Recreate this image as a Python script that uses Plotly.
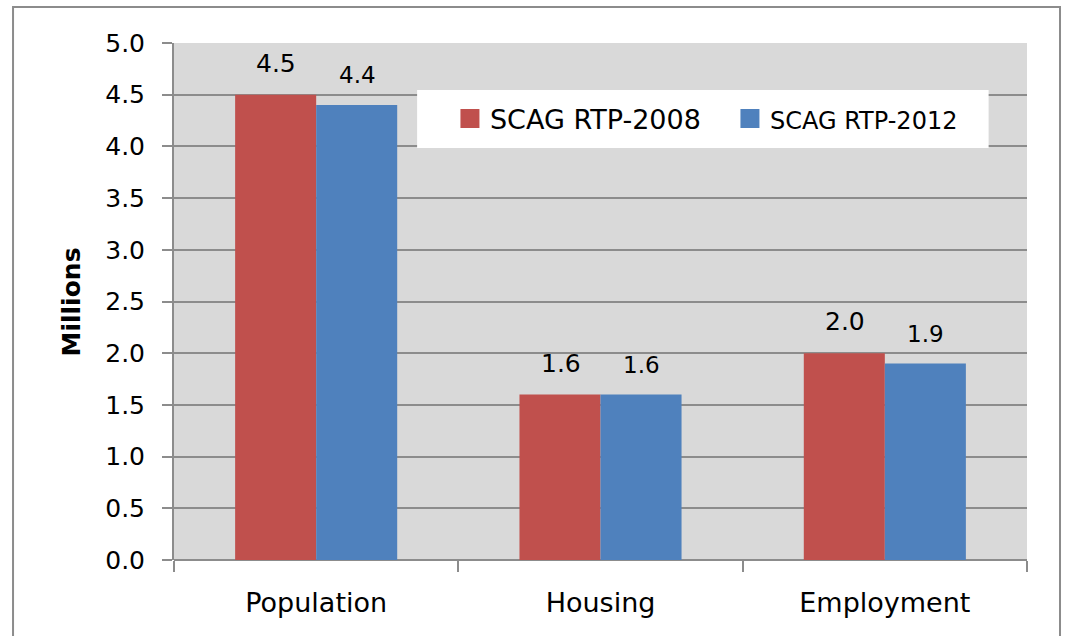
import plotly.graph_objects as go

categories = ["Population", "Housing", "Employment"]
series_names = ["SCAG RTP-2008", "SCAG RTP-2012"]
legend_sizes = [27, 24]
rtp2008 = [4.5, 1.6, 2.0]
rtp2012 = [4.4, 1.6, 1.9]
colors = ["#C0504D", "#4F81BD"]
y_ticks = [0.0, 0.5, 1.0, 1.5, 2.0, 2.5, 3.0, 3.5, 4.0, 4.5, 5.0]

FONT = "DejaVu Sans"
GRID = "#8C8C8C"

fig = go.Figure()
for name, vals, col in zip(series_names, [rtp2008, rtp2012], colors):
    fig.add_trace(go.Bar(x=categories, y=vals, name=name, marker_color=col,
                         marker_line_width=0, showlegend=False))
# legend proxies (larger square swatches)
for name, col, fs in zip(series_names, colors, legend_sizes):
    fig.add_trace(go.Scatter(x=[None], y=[None], mode="markers",
                             name=f"<span style='font-size:{fs}px'>{name}</span>",
                             marker=dict(symbol="square", size=16, color=col,
                                         line=dict(color=col, width=3))))

# data labels
annotations = []
for vals, shift, size in [(rtp2008, -40, 25), (rtp2012, 41, 23)]:
    for c, v in zip(categories, vals):
        annotations.append(dict(x=c, y=v, xref="x", yref="y", text=f"{v:.1f}",
                                showarrow=False, xshift=shift, yanchor="bottom",
                                yshift=15, font=dict(family=FONT, size=size, color="black")))
annotations.append(dict(x=-0.1196, y=0.5, xref="paper", yref="paper", text="<b>Millions</b>",
                        textangle=-90, showarrow=False, xanchor="center", yanchor="middle",
                        font=dict(family=FONT, size=25, color="black")))

fig.update_layout(
    width=1065, height=636,
    margin=dict(l=174, r=38, t=43, b=76, autoexpand=False),
    paper_bgcolor="white",
    plot_bgcolor="#D9D9D9",
    barmode="group", bargap=0.43, bargroupgap=0,
    font=dict(family=FONT, color="black"),
    annotations=annotations,
    legend=dict(orientation="h", x=0.3235, y=0.853, xanchor="left", yanchor="middle",
                bgcolor="rgba(0,0,0,0)", font=dict(family=FONT, size=27, color="black"),
                entrywidth=235, itemsizing="trace"),
    shapes=[
        dict(type="rect", xref="paper", yref="paper", x0=-0.1887, x1=1.0387, y0=-0.3, y1=1.0696,
             line=dict(color="#8C8C8C", width=2), fillcolor="rgba(0,0,0,0)", layer="below"),
        dict(type="rect", xref="paper", yref="paper", x0=0.285, x1=0.955, y0=0.797, y1=0.909,
             line=dict(width=0), fillcolor="white", layer="above"),
    ],
)
fig.update_xaxes(showgrid=False, ticks="outside", ticklen=11, tickcolor=GRID, tickwidth=2,
                 tickson="boundaries", showline=False, ticklabelstandoff=24,
                 tickfont=dict(family=FONT, size=27, color="black"))
fig.update_yaxes(range=[0, 5], tickvals=y_ticks, ticktext=[f"{t:.1f}" for t in y_ticks],
                 showgrid=True, gridcolor=GRID, gridwidth=2, zeroline=True,
                 zerolinecolor=GRID, zerolinewidth=2,
                 showline=True, linecolor=GRID, linewidth=2,
                 ticks="outside", ticklen=10, tickcolor=GRID, tickwidth=2,
                 ticklabelstandoff=12,
                 tickfont=dict(family=FONT, size=25, color="black"))

fig.write_html("out.html", config={"displayModeBar": False},
               post_script="document.body.style.margin='0';document.body.style.overflow='hidden';")
